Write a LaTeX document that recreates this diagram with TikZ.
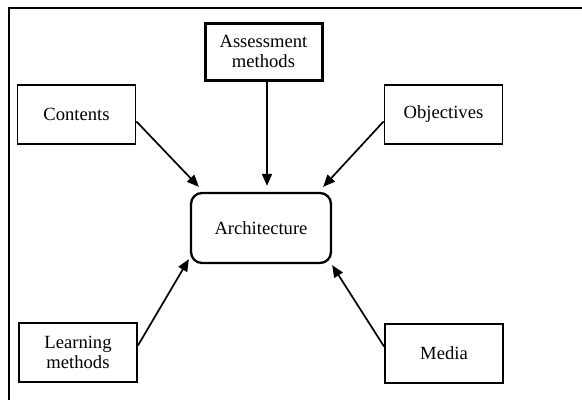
\documentclass[tikz,border=0pt]{standalone}
\usepackage{fontspec}
\setmainfont{Liberation Serif}
\usetikzlibrary{arrows.meta}
\begin{document}
\begin{tikzpicture}[x=1pt,y=-1pt,
  every node/.style={font=\fontsize{18.6pt}{20.5pt}\selectfont, align=center, inner sep=0pt},
  boxnode/.style={draw, line width=1.9pt, minimum width=118pt, minimum height=59pt},
  heavybox/.style={draw, line width=3pt, minimum width=117pt, minimum height=57pt},
  centrebox/.style={draw, line width=2.3pt, rounded corners=11pt, minimum width=140pt, minimum height=70pt},
  arr/.style={line width=1.7pt, -{Triangle[length=12pt,width=10pt]}}]
  \useasboundingbox (0,0) rectangle (582,400);
  % open frame: top and left edges only
  \draw[line width=2pt] (9,400) -- (9,8) -- (582,8);

  \node[heavybox]  (assess) at (263.5,51.5) {Assessment\\methods};
  \node[boxnode]   (cont)   at (76.5,114.5) {Contents};
  \node[boxnode]   (obj)    at (443.5,114.5) {Objectives};
  \node[centrebox] (arch)   at (261,228) {Architecture};
  \node[boxnode]   (learn)  at (78,352.5) {Learning\\methods};
  \node[boxnode]   (media)  at (444,353.5) {Media};

  \draw[arr] ([yshift=-7pt]cont.east) -- ([shift={(9pt,5pt)}]arch.north west);
  \draw[arr] ([xshift=3.5pt]assess.south) -- ([shift={(6pt,6pt)}]arch.north);
  \draw[arr] ([yshift=-7pt]obj.west) -- ([shift={(-9pt,5pt)}]arch.north east);
  \draw[arr] ([yshift=7pt]learn.east) -- ([shift={(-1pt,5pt)}]arch.south west);
  \draw[arr] ([yshift=7pt]media.west) -- ([shift={(0pt,-1pt)}]arch.south east);
\end{tikzpicture}
\end{document}
